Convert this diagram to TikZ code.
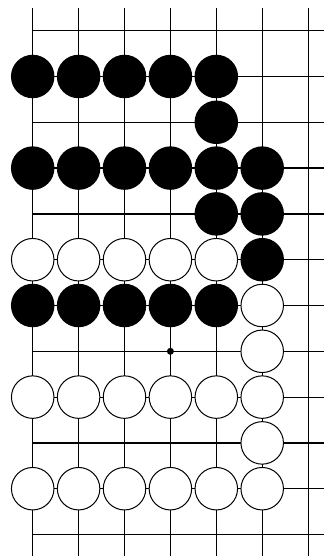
\documentclass[tikz,border=0pt]{standalone}
\begin{document}
\begin{tikzpicture}[x=1pt,y=-1pt,
  gridline/.style={line width=1.2pt,black},
  blackstone/.style={circle,fill=black,inner sep=0pt,minimum size=43.5pt},
  whitestone/.style={circle,fill=white,draw=black,line width=1pt,inner sep=0pt,minimum size=42.5pt},
  hoshi/.style={circle,fill=black,inner sep=0pt,minimum size=7pt}]
\useasboundingbox (0,0) rectangle (324,556);
\def\cx#1{32.7+45.9*#1}
\def\ry#1{30.7+45.8*#1}
% grid
\foreach \c in {0,...,6}
  \draw[gridline] ({\cx{\c}},8) -- ({\cx{\c}},556);
\foreach \r in {0,...,11}
  \draw[gridline] ({\cx{0}},{\ry{\r}}) -- (324,{\ry{\r}});
% hoshi
\node[hoshi] (h) at ({\cx{3}},{\ry{7}}) {};
% black stones
\foreach \r/\c in {1/0,1/1,1/2,1/3,1/4,2/4,3/0,3/1,3/2,3/3,3/4,3/5,4/4,4/5,5/5,6/0,6/1,6/2,6/3,6/4}
  \node[blackstone] (b-\r-\c) at ({\cx{\c}},{\ry{\r}}) {};
% white stones
\foreach \r/\c in {5/0,5/1,5/2,5/3,5/4,6/5,7/5,8/0,8/1,8/2,8/3,8/4,8/5,9/5,10/0,10/1,10/2,10/3,10/4,10/5}
  \node[whitestone] (w-\r-\c) at ({\cx{\c}},{\ry{\r}}) {};
\end{tikzpicture}
\end{document}
